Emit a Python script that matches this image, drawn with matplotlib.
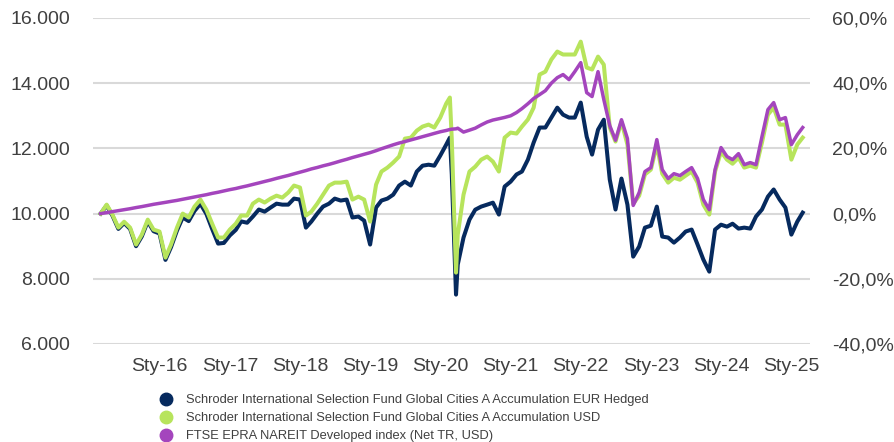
import matplotlib
matplotlib.use("Agg")
import matplotlib.pyplot as plt
from matplotlib.lines import Line2D
import pandas as pd

plt.rcParams['font.family'] = ['Liberation Sans', 'DejaVu Sans']

# ---- data ----
months = pd.date_range("2015-03-01", "2025-03-01", freq="MS")
extra_dates = pd.to_datetime(["2020-02-20", "2020-03-23"])
dates = months.append(extra_dates).sort_values()

eur_hedged = [
    10000, 10250, 9940, 9530, 9710, 9530, 9000, 9300, 9760, 9460,
    9390, 8580, 8970, 9480, 9880, 9770, 10080, 10300, 9990, 9530, 9080, 9100,
    9330, 9500, 9760, 9720, 9910, 10125, 10060, 10185, 10305, 10275, 10275, 10460,
    10430, 9570, 9755, 10000, 10215, 10305, 10460, 10400, 10430, 9880, 9910, 9785,
    9050, 10185, 10400, 10460, 10580, 10860, 10980, 10860, 11290, 11470, 11500, 11470,
    11780, 12115, 12330, 11200, 7515, 8435, 9265, 9815, 10120, 10215, 10275, 10335, 9970, 10830,
    10980, 11200, 11290, 11655, 12180, 12640, 12640, 12945, 13250, 13035, 12945, 12945,
    13405, 12360, 11810, 12575, 12880, 11045, 10125, 11075, 10275, 8680, 8990, 9570,
    9630, 10215, 9295, 9265, 9110, 9265, 9450, 9510, 9050, 8590, 8220, 9510,
    9660, 9600, 9690, 9540, 9570, 9540, 9910, 10125, 10520, 10740, 10430, 10185,
    9355, 9755, 10030,
]
usd = [
    10000, 10275, 9970, 9570, 9750, 9570, 9050, 9355, 9815, 9510,
    9450, 8650, 9050, 9570, 10000, 9880, 10215, 10430, 10120, 9690, 9265, 9265,
    9510, 9690, 9940, 9940, 10305, 10430, 10340, 10460, 10550, 10490, 10645, 10860,
    10800, 9940, 10060, 10305, 10580, 10860, 10950, 10950, 10980, 10430, 10520, 10430,
    9755, 10890, 11290, 11410, 11565, 11750, 12300, 12330, 12545, 12670, 12730, 12640,
    12945, 13375, 13560, 12270, 8190, 9355, 10580, 11290, 11440, 11655, 11750, 11595, 11290, 12330,
    12485, 12455, 12670, 12885, 13250, 14265, 14355, 14725, 14970, 14880, 14880, 14880,
    15275, 14480, 14420, 14815, 14570, 12640, 12210, 12820, 12115, 10300, 10550, 11200,
    11350, 12120, 11225, 10950, 11100, 11040, 11165, 11290, 10950, 10275, 9970, 11290,
    11900, 11655, 11530, 11715, 11410, 11470, 11410, 12180, 13035, 13250, 12730, 12730,
    11655, 12120, 12330,
]
index = [
    10000, 10030, 10060, 10090, 10120, 10150, 10185, 10215, 10250, 10285,
    10315, 10345, 10375, 10405, 10440, 10475, 10510, 10545, 10580, 10620, 10655, 10695,
    10735, 10770, 10810, 10850, 10895, 10940, 10985, 11030, 11080, 11125, 11170, 11220,
    11270, 11320, 11370, 11415, 11465, 11510, 11560, 11615, 11665, 11720, 11770, 11820,
    11870, 11930, 11990, 12050, 12110, 12165, 12210, 12260, 12310, 12360, 12410, 12460,
    12510, 12550, 12580, 12590, 12600, 12620, 12500, 12560, 12620, 12720, 12810, 12870, 12910, 12950,
    13000, 13100, 13220, 13370, 13530, 13650, 13770, 14000, 14170, 14265, 14110, 14355,
    14630, 13710, 13590, 14355, 13500, 12700, 12250, 12880, 12300, 10250, 10645, 11290,
    11410, 12270, 11350, 11075, 11225, 11165, 11290, 11410, 11075, 10430, 10120, 11350,
    12025, 11750, 11655, 11840, 11500, 11565, 11500, 12360, 13190, 13405, 12880, 12945,
    12115, 12420, 12640,
]

series_labels = [
    "Schroder International Selection Fund Global Cities A Accumulation EUR Hedged",
    "Schroder International Selection Fund Global Cities A Accumulation USD",
    "FTSE EPRA NAREIT Developed index (Net TR, USD)",
]
colors = ["#062a5e", "#b7e45c", "#a445bd"]

left_ticks = [6000, 8000, 10000, 12000, 14000, 16000]
right_ticks = [-40, -20, 0, 20, 40, 60]
year_ticks = list(range(2016, 2026))

# ---- figure ----
W, H = 895, 442
fig = plt.figure(figsize=(W / 100, H / 100), dpi=100)
ax = fig.add_axes([93 / W, 1 - 344 / H, (810 - 93) / W, (344 - 18) / H])

ax.plot(dates, eur_hedged, color=colors[0], lw=2.9, solid_joinstyle="round", zorder=3)
ax.plot(dates, usd, color=colors[1], lw=2.9, solid_joinstyle="round", zorder=4)
ax.plot(dates, index, color=colors[2], lw=2.5, solid_joinstyle="round", zorder=5)

ax.set_ylim(6000, 16000)
ax.set_yticks(left_ticks)
ax.set_yticklabels([f"{v:,}".replace(",", ".") for v in left_ticks])
ax.set_xlim(pd.Timestamp("2015-01-20"), pd.Timestamp("2025-04-08"))
ax.set_xticks([pd.Timestamp(f"{y}-01-01") for y in year_ticks])
ax.set_xticklabels([f"Sty-{y % 100:02d}" for y in year_ticks])
ax.grid(axis="y", color="#d9d9d9", lw=1.5, zorder=0)
ax.set_axisbelow(True)
for s in ax.spines.values():
    s.set_visible(False)
ax.tick_params(axis="y", length=0, labelsize=14, colors="#404040", pad=16.5)
ax.tick_params(axis="x", length=0, labelsize=14, colors="#404040", pad=10)

ax2 = ax.twinx()
ax2.set_ylim(-40, 60)
ax2.set_yticks(right_ticks)
ax2.set_yticklabels([f"{v:.1f}%".replace(".", ",") for v in right_ticks])
for s in ax2.spines.values():
    s.set_visible(False)
ax2.tick_params(axis="y", length=0, labelsize=14, colors="#404040", pad=16)

handles = [Line2D([], [], linestyle="none", marker="o", markersize=9,
                  markerfacecolor=c, markeredgecolor=c) for c in colors]
fig.legend(handles, series_labels, loc="upper left",
           bbox_to_anchor=(160 / W, 1 - 394 / H), frameon=False,
           fontsize=9.3, labelcolor="#404040", handlelength=1.0,
           handletextpad=1.0, labelspacing=0.47, borderpad=0, borderaxespad=0)

fig.savefig("out.png", dpi=100)
